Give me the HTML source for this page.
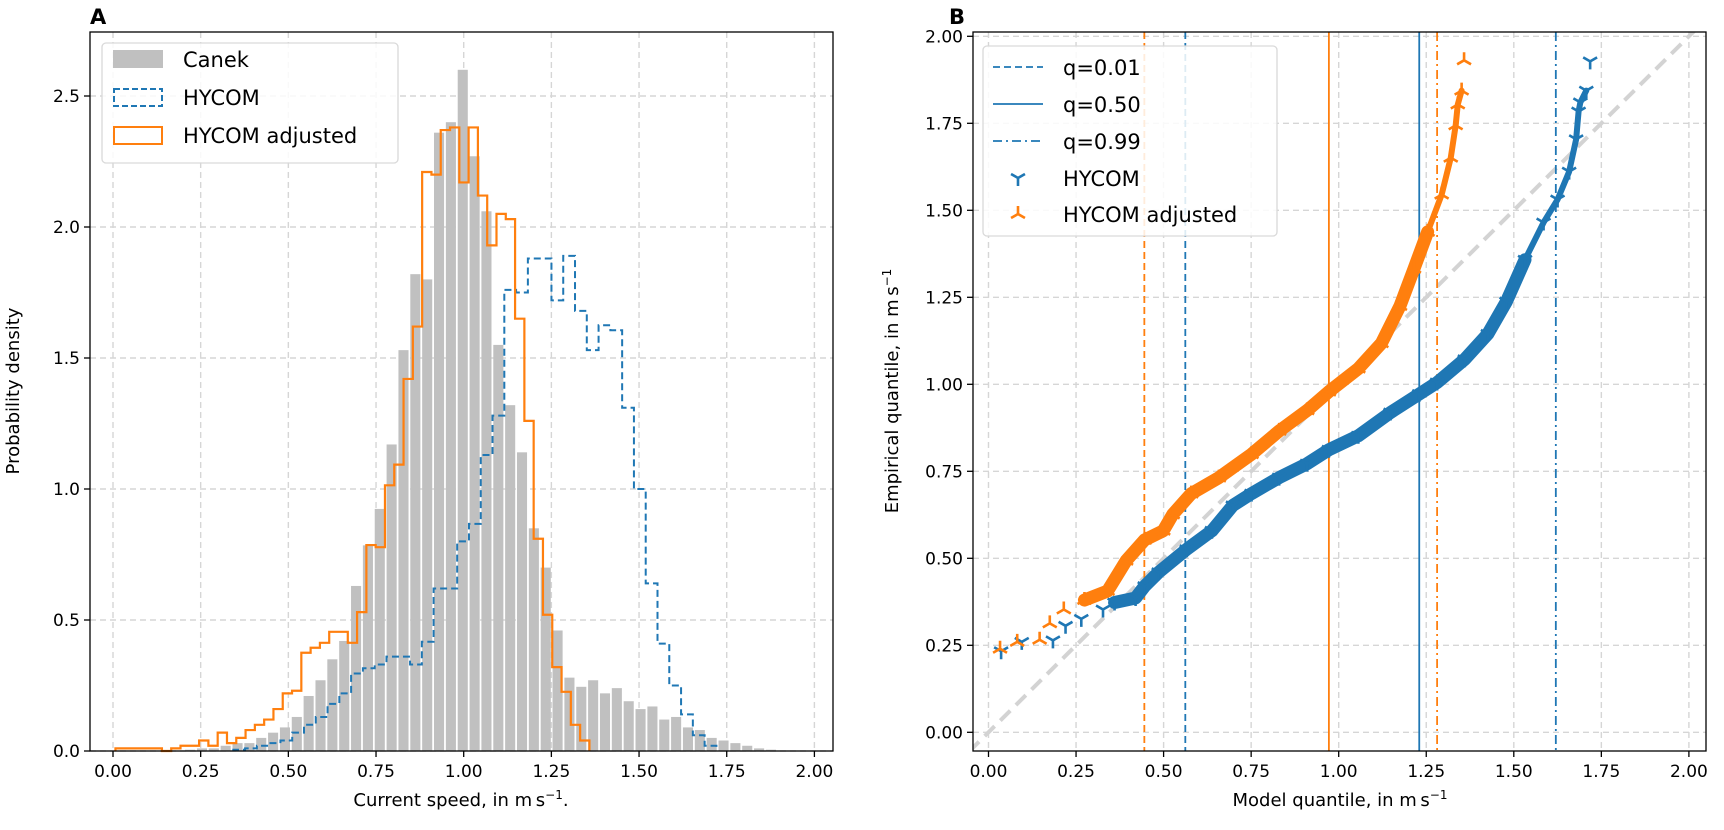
<!DOCTYPE html>
<html><head><meta charset="utf-8"><style>
html,body{margin:0;padding:0;background:#fff;}
svg{display:block;font-family:"DejaVu Sans","Liberation Sans",sans-serif;}
</style></head><body>
<svg id="fig" width="1724" height="830" viewBox="0 0 1724 830" xmlns="http://www.w3.org/2000/svg">
<g id="panelA"></g>
<g id="panelB"></g>
</svg>
<script>
// ---------- Panel A data ----------
const canekStart = 0.203;
const canekWidth = 0.0338;
const canekDensity = [0.005,0.01,0.01,0.02,0.03,0.03,0.05,0.07,0.09,0.13,0.21,0.27,0.35,0.42,0.63,0.785,0.924,1.17,1.53,1.82,1.80,2.36,2.40,2.60,2.27,2.06,1.55,1.32,1.14,0.85,0.70,0.46,0.28,0.245,0.27,0.22,0.24,0.19,0.16,0.17,0.12,0.13,0.09,0.08,0.05,0.04,0.03,0.02,0.01,0.005];
const hycomStart = 0.343;
const hycomWidth = 0.0336;
const hycomDensity = [0.005,0.01,0.02,0.03,0.04,0.07,0.1,0.13,0.18,0.22,0.296,0.316,0.33,0.36,0.36,0.33,0.417,0.62,0.62,0.80,0.867,1.13,1.28,1.76,1.75,1.88,1.88,1.72,1.89,1.68,1.53,1.625,1.606,1.31,1.0,0.64,0.41,0.25,0.14,0.06,0.02];
const adjStart = 0.007;
const adjWidth = 0.0265;
const adjDensity = [0.01,0.01,0.01,0.01,0.01,0,0.01,0.02,0.02,0.04,0.02,0.07,0.03,0.05,0.08,0.1,0.12,0.16,0.22,0.23,0.375,0.394,0.413,0.455,0.455,0.413,0.53,0.786,0.778,1.014,1.093,1.42,1.62,2.21,2.20,2.37,2.38,2.17,2.38,2.12,1.93,2.05,2.03,1.65,1.26,0.81,0.52,0.32,0.226,0.1,0.04];
const aXTicks = ["0.00","0.25","0.50","0.75","1.00","1.25","1.50","1.75","2.00"];
const aYTicks = ["0.0","0.5","1.0","1.5","2.0","2.5"];

// ---------- Panel B data ----------
const hycomModelQ = [0.036,0.095,0.184,0.22,0.265,0.327,0.36,0.42,0.446,0.486,0.566,0.638,0.698,0.751,0.83,0.91,0.972,1.056,1.148,1.23,1.281,1.36,1.426,1.479,1.532,1.585,1.625,1.658,1.678,1.685,1.69,1.707,1.718];
const hycomEmpQ   = [0.233,0.26,0.264,0.306,0.326,0.353,0.373,0.386,0.42,0.46,0.526,0.579,0.652,0.686,0.732,0.772,0.812,0.852,0.919,0.972,1.005,1.072,1.145,1.238,1.358,1.465,1.531,1.611,1.704,1.784,1.81,1.844,1.928];
const adjModelQ = [0.033,0.082,0.146,0.175,0.215,0.274,0.34,0.393,0.446,0.499,0.526,0.579,0.658,0.751,0.83,0.91,0.972,1.056,1.122,1.175,1.215,1.254,1.294,1.32,1.334,1.34,1.351,1.358];
const adjEmpQ   = [0.24,0.26,0.266,0.313,0.353,0.38,0.406,0.493,0.553,0.579,0.626,0.686,0.732,0.799,0.866,0.925,0.979,1.045,1.118,1.225,1.332,1.438,1.545,1.651,1.744,1.804,1.844,1.931];
const qLevels = ["q=0.01","q=0.50","q=0.99"];
const hycomQuantiles = [0.562,1.23,1.62];
const adjQuantiles = [0.445,0.972,1.281];
const bTicks = ["0.00","0.25","0.50","0.75","1.00","1.25","1.50","1.75","2.00"];

const NS="http://www.w3.org/2000/svg";
const BLUE="#1f77b4", ORANGE="#ff7f0e", GRID="#d6d6d6";
function mk(parent,tag,attrs,text){const e=document.createElementNS(NS,tag);for(const k in attrs)e.setAttribute(k,attrs[k]);if(text!==undefined)e.textContent=text;parent.appendChild(e);return e;}

const A={l:90,r:833,t:32,b:751};
const xA=v=>113+350.7*v, yA=v=>751-262*v;
const B={l:973,r:1706,t:32,b:751};
const xB=v=>988.5+350.2*v, yB=v=>732.3-348*v;

const gA=document.getElementById('panelA');
const gB=document.getElementById('panelB');

const gridA=mk(gA,'g',{});


aXTicks.forEach(t=>{const v=parseFloat(t);mk(gridA,'line',{x1:xA(v),x2:xA(v),y1:A.t,y2:A.b,stroke:GRID,'stroke-width':1.4,'stroke-dasharray':'6,4'});});
aYTicks.forEach(t=>{const v=parseFloat(t);mk(gridA,'line',{x1:A.l,x2:A.r,y1:yA(v),y2:yA(v),stroke:GRID,'stroke-width':1.4,'stroke-dasharray':'6,4'});});

const barsA=mk(gA,'g',{});


canekDensity.forEach((d,i)=>{
  const e0=canekStart+i*canekWidth;
  const x0=xA(e0+canekWidth*0.075), x1=xA(e0+canekWidth*0.925);
  const r=mk(barsA,'rect',{x:x0,y:yA(d),width:x1-x0,height:yA(0)-yA(d),fill:'#c0c0c0'});
  
  
});
function stepPath(start,w,vals){
  let d=`M${xA(start)},${yA(0)}`;
  vals.forEach((v,i)=>{d+=` V${yA(v)} H${xA(start+(i+1)*w)}`;});
  d+=` V${yA(0)}`;return d;
}
const hp=mk(gA,'path',{d:stepPath(hycomStart,hycomWidth,hycomDensity),fill:'none',stroke:BLUE,'stroke-width':2,'stroke-dasharray':'7,4'});


const ap=mk(gA,'path',{d:stepPath(adjStart,adjWidth,adjDensity),fill:'none',stroke:ORANGE,'stroke-width':2.2});



function axesFrame(g,box,xt,xf,yt,yf,name){
  const fr=mk(g,'rect',{x:box.l,y:box.t,width:box.r-box.l,height:box.b-box.t,fill:'none',stroke:'#000','stroke-width':1.3});
  
  
  xt.forEach(t=>{const x=xf(parseFloat(t));
    mk(g,'line',{x1:x,x2:x,y1:box.b,y2:box.b+6,stroke:'#000','stroke-width':1.3});
    const tx=mk(g,'text',{x:x,y:box.b+26,'text-anchor':'middle','font-size':17,fill:'#000'},t);
    
    
  });
  yt.forEach(t=>{const y=yf(parseFloat(t));
    mk(g,'line',{x1:box.l-6,x2:box.l,y1:y,y2:y,stroke:'#000','stroke-width':1.3});
    const tx=mk(g,'text',{x:box.l-10,y:y+6,'text-anchor':'end','font-size':17,fill:'#000'},t);
    
    
  });
}
axesFrame(gA,A,aXTicks,xA,aYTicks,yA,'axes-a');

let t=mk(gA,'text',{x:90,y:24,'font-size':21,'font-weight':'bold'},'A');


t=mk(gA,'text',{x:461,y:806,'text-anchor':'middle','font-size':18});
t.innerHTML='Current speed, in m\u2009s<tspan dy="-7" font-size="12">\u22121</tspan><tspan dy="7">.</tspan>';


t=mk(gA,'text',{x:0,y:0,'text-anchor':'middle','font-size':18,transform:'translate(19,391) rotate(-90)'},'Probability density');



const lgA=mk(gA,'g',{});


mk(lgA,'rect',{x:102,y:43,width:296,height:120,rx:4,fill:'#fff','fill-opacity':0.85,stroke:'#d9d9d9','stroke-width':1.3});
const legA=[["Canek",'fill'],["HYCOM",'dash'],["HYCOM adjusted",'solid']];
legA.forEach((e,i)=>{
  const yc=59+i*38;
  const ent=mk(lgA,'g',{});
  
  
  if(e[1]==='fill')mk(ent,'rect',{x:113,y:yc-9,width:50,height:18,fill:'#c0c0c0'});
  else mk(ent,'rect',{x:114,y:yc-8,width:48,height:17,fill:'none',stroke:e[1]==='dash'?BLUE:ORANGE,'stroke-width':2,'stroke-dasharray':e[1]==='dash'?'6,3':'none'});
  mk(ent,'text',{x:183,y:yc+8,'font-size':21},e[0]);
});

const gridB=mk(gB,'g',{});


bTicks.forEach(tk=>{const v=parseFloat(tk);
  mk(gridB,'line',{x1:xB(v),x2:xB(v),y1:B.t,y2:B.b,stroke:GRID,'stroke-width':1.4,'stroke-dasharray':'6,4'});
  mk(gridB,'line',{x1:B.l,x2:B.r,y1:yB(v),y2:yB(v),stroke:GRID,'stroke-width':1.4,'stroke-dasharray':'6,4'});});
const defs=mk(gB,'defs',{});
const cp=mk(defs,'clipPath',{id:'clipB'});
mk(cp,'rect',{x:B.l,y:B.t,width:B.r-B.l,height:B.b-B.t});
const plotB=mk(gB,'g',{'clip-path':'url(#clipB)'});
const diag=mk(plotB,'line',{x1:xB(-0.1),y1:yB(-0.1),x2:xB(2.1),y2:yB(2.1),stroke:'#d3d3d3','stroke-width':4,'stroke-dasharray':'14,8'});


const dashes=['7,4','none','9,4,2,4'];
qLevels.forEach((q,i)=>{
  let l=mk(plotB,'line',{x1:xB(adjQuantiles[i]),x2:xB(adjQuantiles[i]),y1:B.t,y2:B.b,stroke:ORANGE,'stroke-width':1.8,'stroke-dasharray':dashes[i]});
  
  
  l=mk(plotB,'line',{x1:xB(hycomQuantiles[i]),x2:xB(hycomQuantiles[i]),y1:B.t,y2:B.b,stroke:BLUE,'stroke-width':1.8,'stroke-dasharray':dashes[i]});
  
  
});
function tri(g,x,y,down,color,s){
  const p = down
    ? `M${x},${y} L${x},${y+s} M${x},${y} L${x-s*0.87},${y-s*0.5} M${x},${y} L${x+s*0.87},${y-s*0.5}`
    : `M${x},${y} L${x},${y-s} M${x},${y} L${x-s*0.87},${y+s*0.5} M${x},${y} L${x+s*0.87},${y+s*0.5}`;
  return mk(g,'path',{d:p,stroke:color,'stroke-width':2.6,fill:'none'});
}
function series(mx,my,color,down,name){
  const g=mk(plotB,'g',{});
  
  
  let thick=[], thin=[];
  mx.forEach((v,i)=>{
    if(my[i]>0.36 && my[i]<1.46) thick.push(xB(v)+','+yB(my[i]));
    if(my[i]>0.36 && my[i]<1.85) thin.push(xB(v)+','+yB(my[i]));
  });
  mk(g,'polyline',{points:thin.join(' '),fill:'none',stroke:color,'stroke-width':6,'stroke-linejoin':'round','stroke-linecap':'round'});
  mk(g,'polyline',{points:thick.join(' '),fill:'none',stroke:color,'stroke-width':13,'stroke-linejoin':'round','stroke-linecap':'round'});
  mx.forEach((v,i)=>{
    const m=tri(g,xB(v),yB(my[i]),down,color,8);
    
    
  });
}
series(hycomModelQ,hycomEmpQ,BLUE,true,'hycom-qq-points');
series(adjModelQ,adjEmpQ,ORANGE,false,'hycom-adjusted-qq-points');

axesFrame(gB,B,bTicks,xB,bTicks,yB,'axes-b');
t=mk(gB,'text',{x:949,y:24,'font-size':21,'font-weight':'bold'},'B');


t=mk(gB,'text',{x:1340,y:806,'text-anchor':'middle','font-size':18});
t.innerHTML='Model quantile, in m\u2009s<tspan dy="-7" font-size="12">\u22121</tspan>';


t=mk(gB,'text',{x:0,y:0,'text-anchor':'middle','font-size':18,transform:'translate(898,391) rotate(-90)'});
t.innerHTML='Empirical quantile, in m\u2009s<tspan dy="-7" font-size="12">\u22121</tspan>';



const lgB=mk(gB,'g',{});


mk(lgB,'rect',{x:983,y:46,width:294,height:190,rx:4,fill:'#fff','fill-opacity':0.85,stroke:'#d9d9d9','stroke-width':1.3});
qLevels.forEach((q,i)=>{
  const yc=67+i*37;
  const ent=mk(lgB,'g',{});
  
  
  mk(ent,'line',{x1:993,x2:1043,y1:yc,y2:yc,stroke:BLUE,'stroke-width':1.8,'stroke-dasharray':dashes[i]});
  mk(ent,'text',{x:1063,y:yc+8,'font-size':21},q);
});
[["HYCOM",BLUE,true],["HYCOM adjusted",ORANGE,false]].forEach((e,i)=>{
  const yc=178+i*36;
  const ent=mk(lgB,'g',{});
  
  
  tri(ent,1018,yc,e[2],e[1],8);
  mk(ent,'text',{x:1063,y:yc+8,'font-size':21},e[0]);
});
</script>
</body></html>
